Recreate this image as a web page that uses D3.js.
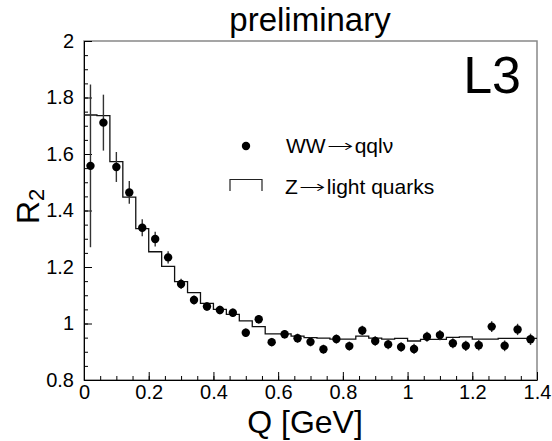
<!DOCTYPE html>
<html>
<head>
<meta charset="utf-8">
<script src="https://cdn.jsdelivr.net/npm/d3@7"></script>
<style>
  body { margin: 0; background: #fff; }
  svg { display: block; font-family: "Liberation Sans", Arial, sans-serif; }
</style>
</head>
<body>
<svg width="552" height="441"></svg>
<script>
// WW -> qqlnu data points (bin centres)
const qPoints = [0.02, 0.06, 0.10, 0.14, 0.18, 0.22, 0.26, 0.30, 0.34, 0.38, 0.42, 0.46, 0.50, 0.54, 0.58,
  0.62, 0.66, 0.70, 0.74, 0.78, 0.82, 0.86, 0.90, 0.94, 0.98, 1.02, 1.06, 1.10, 1.14, 1.18, 1.22, 1.26,
  1.30, 1.34, 1.38];
const r2Points = [1.558, 1.711, 1.554, 1.464, 1.339, 1.299, 1.234, 1.140, 1.083, 1.060, 1.048, 1.038, 0.967,
  1.015, 0.934, 0.962, 0.948, 0.935, 0.909, 0.945, 0.920, 0.975, 0.938, 0.926, 0.917, 0.910, 0.953, 0.959,
  0.930, 0.921, 0.923, 0.989, 0.921, 0.979, 0.944];
const r2Errors = [0.288, 0.099, 0.053, 0.040, 0.030, 0.026, 0.022, 0.018, 0.016, 0.015, 0.015, 0.015, 0.015,
  0.015, 0.015, 0.015, 0.016, 0.016, 0.016, 0.016, 0.016, 0.017, 0.017, 0.017, 0.017, 0.018, 0.018, 0.018,
  0.018, 0.018, 0.019, 0.019, 0.019, 0.020, 0.020];

// Z -> light quarks histogram (bin low edges, width 0.04)
const binEdges = d3.range(0, 1.4, 0.04).map(d => +d.toFixed(2));
const binWidth = 0.04;
const r2Hist = [1.738, 1.736, 1.573, 1.447, 1.336, 1.254, 1.202, 1.148, 1.109, 1.071, 1.050, 1.032, 1.009,
  0.989, 0.963, 0.963, 0.955, 0.950, 0.948, 0.945, 0.945, 0.955, 0.948, 0.945, 0.947, 0.938, 0.944, 0.944,
  0.951, 0.953, 0.945, 0.945, 0.947, 0.947, 0.947];

const xTicks = [0, 0.2, 0.4, 0.6, 0.8, 1, 1.2, 1.4];
const yTicks = [0.8, 1, 1.2, 1.4, 1.6, 1.8, 2];

const svg = d3.select("svg");
const padL = 84, padR = 537, padT = 41, padB = 380;

const x = d3.scaleLinear().domain([0, 1.4]).range([padL, padR]);
const y = d3.scaleLinear().domain([0.8, 2]).range([padB, padT]);

// frame
svg.append("rect")
  .attr("x", padL).attr("y", padT)
  .attr("width", padR - padL).attr("height", padB - padT)
  .attr("fill", "none").attr("stroke", "#888").attr("stroke-width", 1.5);

const fmt = d => String(+d.toFixed(1));

// minor ticks
const minorX = d3.range(0, 1.4001, 0.05).map(d => +d.toFixed(2));
const minorY = d3.range(0.8, 2.0001, 0.05).map(d => +d.toFixed(2));

svg.append("g")
  .attr("transform", `translate(0,${padB})`)
  .call(d3.axisBottom(x).tickValues(minorX).tickSize(-4).tickFormat(""))
  .call(g => g.select(".domain").remove());
svg.append("g")
  .attr("transform", `translate(${padL},0)`)
  .call(d3.axisLeft(y).tickValues(minorY).tickSize(-4).tickFormat(""))
  .call(g => g.select(".domain").remove());

const xAxis = svg.append("g")
  .attr("transform", `translate(0,${padB})`)
  .call(d3.axisBottom(x).tickValues(xTicks).tickSize(-8).tickPadding(5).tickFormat(fmt).tickSizeOuter(0));
xAxis.selectAll("text").attr("font-size", 20).attr("fill", "#000");

const yAxis = svg.append("g")
  .attr("transform", `translate(${padL},0)`)
  .call(d3.axisLeft(y).tickValues(yTicks).tickSize(-8).tickPadding(10).tickFormat(fmt).tickSizeOuter(0));
yAxis.selectAll("text").attr("font-size", 20).attr("fill", "#000");

svg.selectAll(".domain").attr("stroke", "#000");

// histogram
const histLine = [];
binEdges.forEach((e, i) => {
  histLine.push([x(e), y(r2Hist[i])]);
  histLine.push([x(e + binWidth), y(r2Hist[i])]);
});
svg.append("path")
  .attr("d", d3.line()(histLine))
  .attr("fill", "none")
  .attr("stroke", "#111")
  .attr("stroke-width", 1.3);

// data points with error bars
const pts = svg.append("g");
pts.selectAll("line")
  .data(qPoints)
  .join("line")
  .attr("x1", d => x(d)).attr("x2", d => x(d))
  .attr("y1", (d, i) => y(Math.min(2, r2Points[i] + r2Errors[i])))
  .attr("y2", (d, i) => y(r2Points[i] - r2Errors[i]))
  .attr("stroke", "#333")
  .attr("stroke-width", 1.4);
pts.selectAll("circle")
  .data(qPoints)
  .join("circle")
  .attr("cx", d => x(d))
  .attr("cy", (d, i) => y(r2Points[i]))
  .attr("r", 4.2)
  .attr("fill", "#000");

// titles
svg.append("text")
  .attr("x", 310).attr("y", 31)
  .attr("text-anchor", "middle")
  .attr("font-size", 33)
  .text("preliminary");

svg.append("text")
  .attr("x", 521).attr("y", 93)
  .attr("text-anchor", "end")
  .attr("font-size", 52)
  .text("L3");

svg.append("text")
  .attr("x", 305).attr("y", 433)
  .attr("text-anchor", "middle")
  .attr("font-size", 32)
  .text("Q [GeV]");

const yTitle = svg.append("text")
  .attr("transform", "translate(39,224) rotate(-90)")
  .attr("font-size", 32);
yTitle.append("tspan").text("R");
yTitle.append("tspan").attr("font-size", 22).attr("dy", 5).text("2");

// legend: label with a long arrow drawn as a stretched glyph
const legendLabel = (x0, y0, before, after) => {
  const g = svg.append("g");
  const t1 = g.append("text").attr("x", x0).attr("y", y0).attr("font-size", 21).text(before);
  const w1 = t1.node().getComputedTextLength();
  g.append("text")
    .attr("x", x0 + w1 + 1).attr("y", y0 - 1)
    .attr("font-family", "DejaVu Sans")
    .attr("font-weight", 300)
    .attr("font-size", 18)
    .attr("textLength", 27)
    .attr("lengthAdjust", "spacingAndGlyphs")
    .text("\u2192");
  g.append("text").attr("x", x0 + w1 + 29).attr("y", y0).attr("font-size", 21).text(after);
};

svg.append("circle").attr("cx", 246).attr("cy", 146).attr("r", 4.2).attr("fill", "#000");
legendLabel(286, 153, "WW", "qql\u03bd");

svg.append("path")
  .attr("d", `M230,191V179.5H262V191`)
  .attr("fill", "none").attr("stroke", "#222").attr("stroke-width", 1.2);
legendLabel(285, 194, "Z", "light quarks");
</script>
</body>
</html>
